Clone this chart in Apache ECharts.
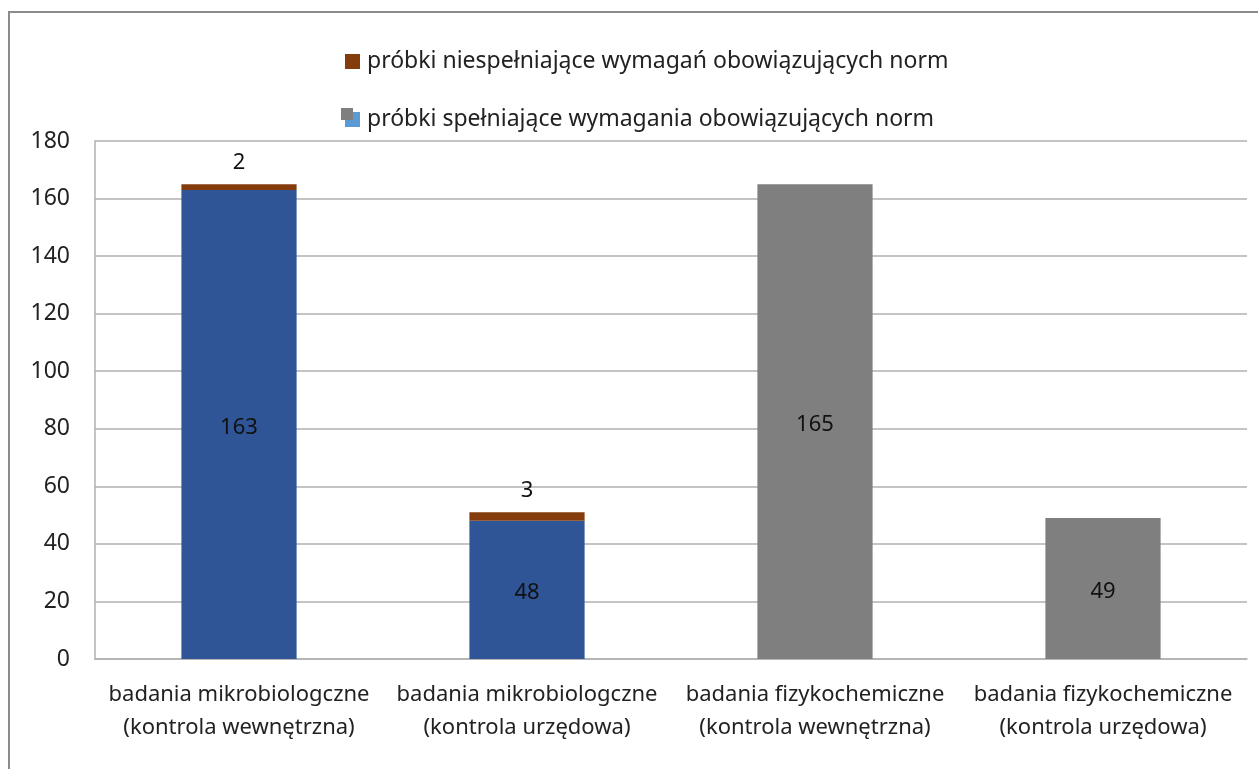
<!DOCTYPE html>
<html>
<head>
<meta charset="utf-8">
<script src="https://cdn.jsdelivr.net/npm/echarts@6/dist/echarts.min.js"></script>
<style>
  html, body { margin: 0; padding: 0; background: #fff; overflow: hidden; }
  #frame { position: absolute; left: 8px; top: 11px; width: 1300px; height: 800px;
           border-top: 2px solid #8c8c8c; border-left: 2px solid #8c8c8c; }
  #main { position: absolute; left: 0; top: 0; width: 1258px; height: 769px; }
</style>
</head>
<body>
<div id="frame"></div>
<div id="main"></div>
<script>
const categories = [
  'badania mikrobiologczne\n(kontrola wewnętrzna)',
  'badania mikrobiologczne\n(kontrola urzędowa)',
  'badania fizykochemiczne\n(kontrola wewnętrzna)',
  'badania fizykochemiczne\n(kontrola urzędowa)'
]
const passName = 'próbki spełniające wymagania obowiązujących norm'
const failName = 'próbki niespełniające wymagań obowiązujących norm'
const passValues = [163, 48, 165, 49]
const failValues = [2, 3, '-', '-']
// mikrobiologiczne słupki niebieskie, fizykochemiczne szare
const passColors = ['#2f5597', '#2f5597', '#7f7f7f', '#7f7f7f']

const chart = echarts.init(document.getElementById('main'))
const font = 'Noto Sans'

const option = {
  textStyle: { fontFamily: font },
  legend: {
    orient: 'vertical',
    left: 345,
    top: 50,
    padding: 0,
    itemGap: 35,
    itemWidth: 15,
    itemHeight: 15,
    icon: 'rect',
    data: [
      failName,
      { name: passName, itemStyle: { color: '#5b9bd5' } }
    ],
    textStyle: { fontSize: 23, color: '#222', fontFamily: font, padding: [0, 0, 0, 2] }
  },
  graphic: [{
    type: 'rect',
    left: 341,
    top: 108,
    shape: { width: 12, height: 12 },
    style: { fill: '#7f7f7f' },
    z: 100
  }],
  grid: {
    left: 95,
    right: 11,
    top: 141,
    bottom: 110,
    containLabel: false
  },
  xAxis: {
    type: 'category',
    data: categories,
    axisLine: { lineStyle: { color: '#b0b0b0', width: 1.5 } },
    axisTick: { show: false },
    axisLabel: {
      interval: 0,
      color: '#222',
      fontSize: 22,
      lineHeight: 33,
      margin: 19
    }
  },
  yAxis: {
    type: 'value',
    min: 0,
    max: 180,
    interval: 20,
    axisLine: { show: true, lineStyle: { color: '#b0b0b0', width: 1.5 } },
    axisTick: { show: false },
    splitLine: { lineStyle: { color: '#b0b0b0', width: 1.5 } },
    axisLabel: { color: '#222', fontSize: 23, margin: 25 }
  },
  series: [
    {
      name: passName,
      type: 'bar',
      stack: 'total',
      barWidth: '40%',
      itemStyle: { color: '#7f7f7f' },
      data: passValues.map((v, i) => ({ value: v, itemStyle: { color: passColors[i] } })),
      label: {
        show: true,
        position: 'inside',
        offset: [0, 3],
        color: '#111',
        fontSize: 22
      }
    },
    {
      name: failName,
      type: 'bar',
      stack: 'total',
      barWidth: '40%',
      itemStyle: { color: '#843c0c' },
      data: failValues,
      label: {
        show: true,
        position: 'top',
        distance: 10,
        color: '#111',
        fontSize: 22
      }
    }
  ]
}

chart.setOption(option)
</script>
</body>
</html>
